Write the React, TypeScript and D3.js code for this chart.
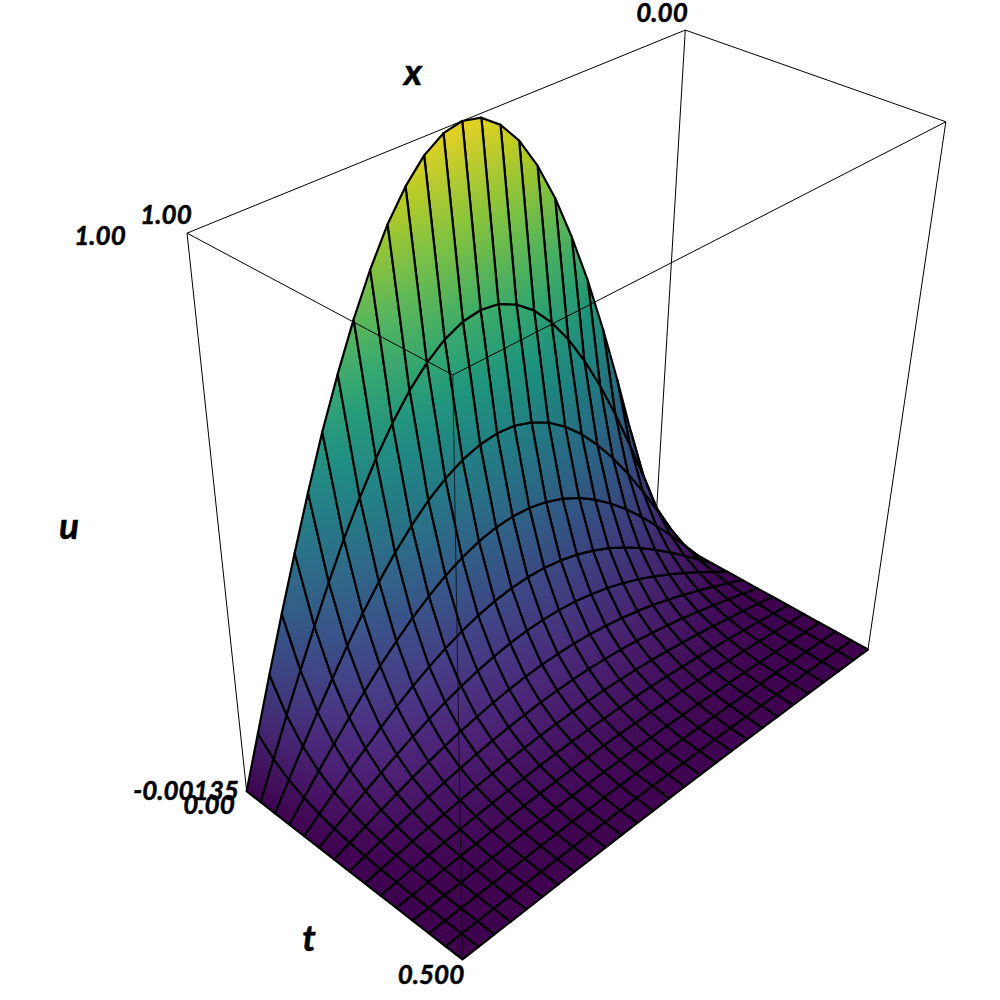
import * as d3 from 'd3';
import React, { useMemo } from 'react';

// grid nodes (the x lines are not evenly spaced)
const tNodes = [0, 0.0357, 0.0714, 0.1071, 0.1429, 0.1786, 0.2143, 0.25, 0.2857, 0.3214, 0.3571, 0.3929, 0.4286, 0.4643, 0.5];
const xNodes = [0, 0.043, 0.087, 0.13, 0.173, 0.216, 0.258, 0.299, 0.34, 0.381, 0.421, 0.461, 0.5, 0.538, 0.577, 0.615, 0.652, 0.689, 0.725, 0.761, 0.797, 0.832, 0.866, 0.9, 0.934, 0.967, 1];
// peak height of each t arch, and arch shape across x
const peakByT = [1, 0.7, 0.49, 0.345, 0.24, 0.17, 0.118, 0.083, 0.058, 0.041, 0.029, 0.02, 0.014, 0.01, 0.007];
const shapeByX = [0, 0.135, 0.27, 0.397, 0.517, 0.628, 0.724, 0.807, 0.876, 0.931, 0.969, 0.993, 1, 0.993, 0.971, 0.935, 0.888, 0.828, 0.76, 0.682, 0.597, 0.504, 0.408, 0.309, 0.206, 0.103, 0];

const U_MIN = -0.00135;
const U_MAX = 1;

// box corners seen on screen, used to calibrate the camera: [a, b, c, screenX, screenY]
const CAMERA_POINTS = [
    [0, 0, 0, 247, 792],
    [1, 0, 0, 462, 960],
    [1, 1, 0, 868, 650],
    [0, 0, 1, 187, 233],
    [1, 0, 1, 453, 375],
    [1, 1, 1, 946, 122],
    [0, 1, 1, 685, 30],
];

const tLabels = [
    { text: '0.00', x: 662, y: 22 },
    { text: '1.00', x: 166, y: 224 },
    { text: '1.00', x: 100, y: 245 },
    { text: '-0.00135', x: 186, y: 800 },
    { text: '0.00', x: 209, y: 814 },
    { text: '0.500', x: 431, y: 984 },
];
const axisTitles = [
    { text: 'x', x: 413, y: 85 },
    { text: 'u', x: 69, y: 539 },
    { text: 't', x: 309, y: 951 },
];

// least squares camera matrix from the corners above
function fitCamera(points: number[][]) {
    const rows: number[][] = [];
    const rhs: number[] = [];
    points.forEach(([a, b, c, X, Y]) => {
        const sx = X / 1000;
        const sy = Y / 1000;
        rows.push([a, b, c, 1, 0, 0, 0, 0, -sx * a, -sx * b, -sx * c]);
        rhs.push(sx);
        rows.push([0, 0, 0, 0, a, b, c, 1, -sy * a, -sy * b, -sy * c]);
        rhs.push(sy);
    });
    const n = 11;
    const m = d3.range(n).map(i => d3.range(n + 1).map(j =>
        j < n ? d3.sum(rows, (r) => r[i] * r[j]) : d3.sum(rows, (r, k) => r[i] * rhs[k])
    ));
    for (let i = 0; i < n; i++) {
        let best = i;
        for (let r = i + 1; r < n; r++) if (Math.abs(m[r][i]) > Math.abs(m[best][i])) best = r;
        [m[i], m[best]] = [m[best], m[i]];
        for (let r = 0; r < n; r++) {
            if (r === i) continue;
            const f = m[r][i] / m[i][i];
            for (let j = i; j <= n; j++) m[r][j] -= f * m[i][j];
        }
    }
    return d3.range(n).map(i => m[i][n] / m[i][i]);
}

const cam = fitCamera(CAMERA_POINTS);
const tScale = d3.scaleLinear().domain([0, 0.5]).range([0, 1]);
const xScale = d3.scaleLinear().domain([1, 0]).range([0, 1]);
const uScale = d3.scaleLinear().domain([U_MIN, U_MAX]).range([0, 1]);
const colorScale = d3.scaleSequential(d3.interpolateViridis).domain([U_MIN, U_MAX]);

type P = { x: number; y: number; w: number; u: number };

const project = (t: number, x: number, u: number): P => {
    const a = tScale(t), b = xScale(x), c = uScale(u);
    const w = cam[8] * a + cam[9] * b + cam[10] * c + 1;
    return {
        x: 1000 * (cam[0] * a + cam[1] * b + cam[2] * c + cam[3]) / w,
        y: 1000 * (cam[4] * a + cam[5] * b + cam[6] * c + cam[7]) / w,
        w,
        u,
    };
};

// diffuse factor 0.9 plus a small specular term, like the renderer's lighting
const shaded = (u: number, spec: number) => {
    const c = d3.rgb(colorScale(Math.max(U_MIN, Math.min(U_MAX, u))));
    return d3.rgb(c.r * 0.9 + spec * 0.8, c.g * 0.9 + spec * 0.6, c.b * 0.9 + spec * 1.3).formatHex();
};

// plane fit of u over the projected cell gives the gradient direction
function cellGradient(pts: P[]) {
    const mx = d3.mean(pts, p => p.x)!;
    const my = d3.mean(pts, p => p.y)!;
    const mu = d3.mean(pts, p => p.u)!;
    let sxx = 0, sxy = 0, syy = 0, sxu = 0, syu = 0;
    pts.forEach(p => {
        const dx = p.x - mx, dy = p.y - my, du = p.u - mu;
        sxx += dx * dx; sxy += dx * dy; syy += dy * dy; sxu += dx * du; syu += dy * du;
    });
    const det = sxx * syy - sxy * sxy;
    if (Math.abs(det) < 1e-6) return null;
    const ga = (syy * sxu - sxy * syu) / det;
    const gb = (sxx * syu - sxy * sxu) / det;
    const g2 = ga * ga + gb * gb;
    if (g2 < 1e-12) return null;
    const half = (d3.max(pts, p => p.u)! - d3.min(pts, p => p.u)!) / 2;
    return {
        x1: mx - ga / g2 * half, y1: my - gb / g2 * half,
        x2: mx + ga / g2 * half, y2: my + gb / g2 * half,
        u1: mu - half, u2: mu + half, mu,
    };
}

const Surface = () => {
    const cells = useMemo(() => {
        const height = (i: number, j: number) => peakByT[i] * shapeByX[j];
        const nT = tNodes.length - 1, nX = xNodes.length - 1;
        const out: any[] = [];
        for (let i = 0; i < nT; i++) {
            for (let j = 0; j < nX; j++) {
                const pts = [
                    project(tNodes[i], xNodes[j], height(i, j)),
                    project(tNodes[i + 1], xNodes[j], height(i + 1, j)),
                    project(tNodes[i + 1], xNodes[j + 1], height(i + 1, j + 1)),
                    project(tNodes[i], xNodes[j + 1], height(i, j + 1)),
                ];
                const dt = (height(i + 1, j) + height(i + 1, j + 1) - height(i, j) - height(i, j + 1)) / 2;
                const dx = (height(i, j + 1) + height(i + 1, j + 1) - height(i, j) - height(i + 1, j)) / 2;
                const nt = -dt * nT * 2.07, nx = -dx * nX * 1.12;
                const len = Math.hypot(nt, nx, 1);
                const nh = (0.65 * nt + 0.35 * nx + 0.67) / len;
                out.push({
                    id: `c${i}-${j}`,
                    pts,
                    spec: 15 * Math.pow(Math.max(0, nh), 6),
                    depth: d3.mean(pts, p => p.w)!,
                    grad: cellGradient(pts),
                });
            }
        }
        return out.sort((p, q) => q.depth - p.depth);
    }, []);

    return (
        <g>
            <defs>
                {cells.filter(c => c.grad).map(c => (
                    <linearGradient key={c.id} id={c.id} gradientUnits="userSpaceOnUse"
                        x1={c.grad.x1} y1={c.grad.y1} x2={c.grad.x2} y2={c.grad.y2}>
                        <stop offset="0" stopColor={shaded(c.grad.u1, c.spec)} />
                        <stop offset="0.5" stopColor={shaded(c.grad.mu, c.spec)} />
                        <stop offset="1" stopColor={shaded(c.grad.u2, c.spec)} />
                    </linearGradient>
                ))}
            </defs>
            {cells.map(c => (
                <polygon
                    key={c.id}
                    points={c.pts.map((p: P) => `${p.x},${p.y}`).join(' ')}
                    fill={c.grad ? `url(#${c.id})` : shaded(c.pts[0].u, c.spec)}
                    stroke="#000"
                    strokeWidth={2.2}
                    strokeLinejoin="round"
                />
            ))}
        </g>
    );
};

const App = () => {
    const corner = (a: number, b: number, c: number) =>
        project(tScale.invert(a), xScale.invert(b), uScale.invert(c));
    const edge = (p: number[], q: number[], key: string, opacity = 1) => {
        const s = corner(p[0], p[1], p[2]);
        const e = corner(q[0], q[1], q[2]);
        return <line key={key} x1={s.x} y1={s.y} x2={e.x} y2={e.y} stroke="#000" strokeWidth={1} strokeOpacity={opacity} />;
    };
    const font = { fontFamily: 'Lato', fontStyle: 'italic', fontWeight: 700, stroke: '#000', strokeWidth: 0.5 };
    return (
        <svg width={1000} height={1000} style={{ position: 'absolute', left: 0, top: 0, background: '#fff' }}>
            {edge([0, 0, 1], [0, 1, 1], 'back1')}
            {edge([0, 1, 1], [1, 1, 1], 'back2')}
            {edge([0, 1, 0], [0, 1, 1], 'back3')}
            {edge([1, 1, 0], [1, 1, 1], 'back4')}
            {edge([0, 0, 0], [0, 0, 1], 'back5')}
            <Surface />
            {edge([0, 0, 1], [1, 0, 1], 'front1')}
            {edge([1, 0, 1], [1, 1, 1], 'front2')}
            {edge([1, 0, 0], [1, 0, 1], 'front3', 0.7)}
            {tLabels.map(l => (
                <text key={l.text + l.x} x={l.x} y={l.y} textAnchor="middle" fontSize={26} fill="#000" {...font}>{l.text}</text>
            ))}
            {axisTitles.map(l => (
                <text key={l.text} x={l.x} y={l.y} textAnchor="middle" fontSize={37} fill="#000" {...font}>{l.text}</text>
            ))}
        </svg>
    );
};

export default App;
